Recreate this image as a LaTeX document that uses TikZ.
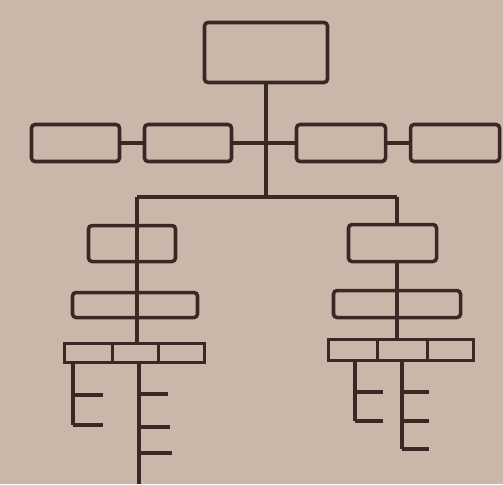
\documentclass[tikz,border=0pt]{standalone}
\usetikzlibrary{positioning}
\definecolor{paper}{RGB}{201,184,170}
\definecolor{ink}{RGB}{58,40,36}
\tikzset{
  box/.style={draw=ink, line width=2pt, rounded corners=2pt, inner sep=0pt, outer sep=0pt},
  cell/.style={box, sharp corners},
  wire/.style={draw=ink, line width=2pt},
}
\begin{document}
\begin{tikzpicture}[x=0.02cm,y=-0.02cm]
    \def\u{0.02cm}
    \fill[paper] (0,0) rectangle (503,484);
    \useasboundingbox (0,0) rectangle (503,484);
    % ---- top ----
    \node[box, minimum width=123*\u, minimum height=60*\u] (top) at (266,52.5) {};
    \node[box, minimum width=88*\u, minimum height=37*\u] (a) at (75.5,143) {};
    \node[box, minimum width=87*\u, minimum height=37*\u] (b) at (188,143) {};
    \node[box, minimum width=89*\u, minimum height=37*\u] (c) at (341,143) {};
    \node[box, minimum width=89*\u, minimum height=37*\u] (d) at (455,143) {};
    \coordinate (barL) at (137,197);
    \coordinate (barR) at (397,197);
    \draw[wire] (top.south) -- (top.south |- barL);
    \draw[wire] (a) -- (b);
    \draw[wire] (b) -- (c);
    \draw[wire] (c) -- (d);
    \draw[wire] (barL) -- (barR);
    % ---- left column ----
    \node[box, minimum width=87*\u, minimum height=36*\u] (l1) at (132,243.5) {};
    \node[box, minimum width=125*\u, minimum height=25*\u] (l2) at (135,305) {};
    \node[cell, minimum width=48*\u, minimum height=19*\u] (l3a) at (88.5,353) {};
    \node[cell, minimum width=46*\u, minimum height=19*\u, right=0pt of l3a] (l3b) {};
    \node[cell, minimum width=46*\u, minimum height=19*\u, right=0pt of l3b] (l3c) {};
    \draw[wire] (barL) -- (barL |- l3b.north);
    % ---- right column ----
    \node[box, minimum width=88*\u, minimum height=37*\u] (r1) at (392.5,243) {};
    \node[box, minimum width=127*\u, minimum height=27*\u] (r2) at (397,304) {};
    \node[cell, minimum width=49*\u, minimum height=21*\u] (r3a) at (353,350) {};
    \node[cell, minimum width=50*\u, minimum height=21*\u, right=0pt of r3a] (r3b) {};
    \node[cell, minimum width=46*\u, minimum height=21*\u, right=0pt of r3b] (r3c) {};
    \draw[wire] (barR) -- (barR |- r1.north);
    \draw[wire] (barR |- r1.south) -- (barR |- r3b.north);
    % ---- stems ----
    \coordinate (lo) at (73,425);
    \coordinate (lc) at (139,484);
    \coordinate (ro) at (355,421);
    \coordinate (rc) at (402,449);
    \draw[wire] (l3a.south -| lo) -- (lo);
    \draw[wire] (l3b.south -| lc) -- (lc);
    \draw[wire] (r3a.south -| ro) -- (ro);
    \draw[wire] (r3b.south -| rc) -- (rc);
    \foreach \y in {395,425}
        \draw[wire] (lo |- 0,\y) -- ++(30,0);
    \foreach \y/\l in {394/29,427/31,453/33}
        \draw[wire] (lc |- 0,\y) -- ++(\l,0);
    \foreach \y in {392,421}
        \draw[wire] (ro |- 0,\y) -- ++(28,0);
    \foreach \y in {392,421,449}
        \draw[wire] (rc |- 0,\y) -- ++(27,0);
\end{tikzpicture}
\end{document}
